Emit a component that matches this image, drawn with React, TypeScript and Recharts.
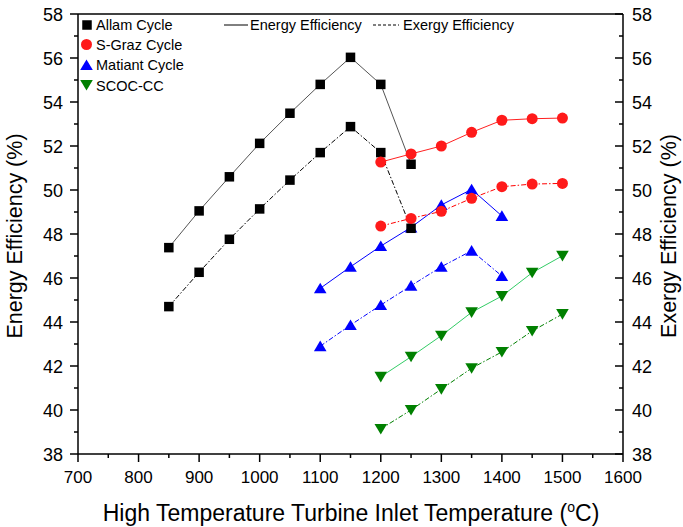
import React from 'react';
import { LineChart, Line, XAxis, YAxis, ReferenceLine } from 'recharts';

const allamTemps = [850, 900, 950, 1000, 1050, 1100, 1150, 1200, 1250];
const allamEnergy = [47.38, 49.05, 50.6, 52.12, 53.49, 54.8, 56.03, 54.8, 51.17];
const allamExergy = [44.7, 46.26, 47.76, 49.14, 50.45, 51.7, 52.88, 51.7, 48.26];

const sgrazTemps = [1200, 1250, 1300, 1350, 1400, 1450, 1500];
const sgrazEnergy = [51.27, 51.64, 52.0, 52.62, 53.17, 53.24, 53.27];
const sgrazExergy = [48.36, 48.71, 49.03, 49.62, 50.15, 50.27, 50.3];

const matiantTemps = [1100, 1150, 1200, 1250, 1300, 1350, 1400];
const matiantEnergy = [45.53, 46.51, 47.45, 48.3, 49.32, 50.03, 48.82];
const matiantExergy = [42.9, 43.86, 44.77, 45.65, 46.51, 47.24, 46.09];

const scocTemps = [1200, 1250, 1300, 1350, 1400, 1450, 1500];
const scocEnergy = [41.51, 42.42, 43.38, 44.44, 45.18, 46.24, 47.01];
const scocExergy = [39.14, 40.0, 40.95, 41.9, 42.64, 43.59, 44.36];

const xTicks = [700, 750, 800, 850, 900, 950, 1000, 1050, 1100, 1150, 1200, 1250, 1300, 1350, 1400, 1450, 1500, 1550, 1600];
const yTicks = [38, 39, 40, 41, 42, 43, 44, 45, 46, 47, 48, 49, 50, 51, 52, 53, 54, 55, 56, 57, 58];

const legendSeries = ['Allam Cycle', 'S-Graz Cycle', 'Matiant Cycle', 'SCOC-CC'];
const legendLines = ['Energy Efficiency', 'Exergy Efficiency'];

const FONT = '"Liberation Sans", Arial, sans-serif';
const EXERGY_DASH = '5 2 1.5 2';

const toData = (xs: number[], ys: number[]) => xs.map((x, i) => ({ x, y: ys[i] }));

const squareDot = (color: string) => (p: any) => (
  <rect key={`s-${p.index}`} x={p.cx - 4.75} y={p.cy - 4.75} width={9.5} height={9.5} fill={color} />
);
const circleDot = (color: string) => (p: any) => (
  <circle key={`c-${p.index}`} cx={p.cx} cy={p.cy} r={5.5} fill={color} />
);
const triUpDot = (color: string) => (p: any) => (
  <polygon key={`u-${p.index}`} points={`${p.cx},${p.cy - 5.6} ${p.cx + 6.3},${p.cy + 5} ${p.cx - 6.3},${p.cy + 5}`} fill={color} />
);
const triDownDot = (color: string) => (p: any) => (
  <polygon key={`d-${p.index}`} points={`${p.cx},${p.cy + 5.6} ${p.cx + 6.3},${p.cy - 5} ${p.cx - 6.3},${p.cy - 5}`} fill={color} />
);

const XTick = (p: any) => {
  const v = p.payload.value;
  const major = v % 100 === 0;
  return (
    <g>
      <line x1={p.x} x2={p.x} y1={p.y} y2={p.y + (major ? 8 : 4)} stroke="#000" strokeWidth={1.5} />
      {major && (
        <text x={p.x} y={p.y + 29} textAnchor="middle" fontSize={17} fontFamily={FONT} fill="#000">
          {v}
        </text>
      )}
    </g>
  );
};

const YLeftTick = (p: any) => {
  const v = p.payload.value;
  const major = v % 2 === 0;
  return (
    <g>
      <line x1={p.x - (major ? 8 : 4)} x2={p.x} y1={p.y} y2={p.y} stroke="#000" strokeWidth={1.5} />
      {major && (
        <text x={p.x - 15} y={p.y + 6.5} textAnchor="end" fontSize={18} fontFamily={FONT} fill="#000">
          {v}
        </text>
      )}
    </g>
  );
};

const YRightTick = (p: any) => {
  const v = p.payload.value;
  const major = v % 2 === 0;
  return (
    <g>
      <line x1={p.x} x2={p.x - (major ? 8 : 4)} y1={p.y} y2={p.y} stroke="#000" strokeWidth={1.5} />
      {major && (
        <text x={p.x + 9} y={p.y + 6.5} textAnchor="start" fontSize={18} fontFamily={FONT} fill="#000">
          {v}
        </text>
      )}
    </g>
  );
};

export default function App() {
  return (
    <div style={{ position: 'absolute', left: 0, top: 0, width: 683, height: 527, background: '#fff' }}>
      <LineChart width={683} height={527} margin={{ top: 14, right: 0, bottom: 0, left: 0 }}>
        <XAxis
          type="number"
          dataKey="x"
          domain={[700, 1600]}
          ticks={xTicks}
          interval={0}
          allowDataOverflow
          tickSize={0}
          tickMargin={0}
          tickLine={false}
          tick={<XTick />}
          height={73}
          axisLine={{ stroke: '#000', strokeWidth: 1.5 }}
        />
        <YAxis
          yAxisId="left"
          type="number"
          domain={[38, 58]}
          ticks={yTicks}
          interval={0}
          allowDataOverflow
          tickSize={0}
          tickMargin={0}
          tickLine={false}
          tick={<YLeftTick />}
          width={78}
          axisLine={{ stroke: '#000', strokeWidth: 1.5 }}
        />
        <YAxis
          yAxisId="right"
          orientation="right"
          type="number"
          domain={[38, 58]}
          ticks={yTicks}
          interval={0}
          allowDataOverflow
          tickSize={0}
          tickMargin={0}
          tickLine={false}
          tick={<YRightTick />}
          width={60}
          axisLine={{ stroke: '#000', strokeWidth: 1.5 }}
        />
        <ReferenceLine yAxisId="left" y={58} stroke="#000" strokeWidth={1.5} />

        <Line yAxisId="left" data={toData(matiantTemps, matiantEnergy)} dataKey="y" stroke="#0000ff" strokeWidth={1} dot={triUpDot('#0000ff')} isAnimationActive={false} />
        <Line yAxisId="left" data={toData(matiantTemps, matiantExergy)} dataKey="y" stroke="#0000ff" strokeWidth={1} strokeDasharray={EXERGY_DASH} dot={triUpDot('#0000ff')} isAnimationActive={false} />
        <Line yAxisId="left" data={toData(scocTemps, scocEnergy)} dataKey="y" stroke="#33cc66" strokeWidth={1} dot={triDownDot('#008000')} isAnimationActive={false} />
        <Line yAxisId="left" data={toData(scocTemps, scocExergy)} dataKey="y" stroke="#008000" strokeWidth={1} strokeDasharray={EXERGY_DASH} dot={triDownDot('#008000')} isAnimationActive={false} />
        <Line yAxisId="left" data={toData(allamTemps, allamEnergy)} dataKey="y" stroke="#555555" strokeWidth={1} dot={squareDot('#000000')} isAnimationActive={false} />
        <Line yAxisId="left" data={toData(allamTemps, allamExergy)} dataKey="y" stroke="#000000" strokeWidth={1} strokeDasharray={EXERGY_DASH} dot={squareDot('#000000')} isAnimationActive={false} />
        <Line yAxisId="left" data={toData(sgrazTemps, sgrazEnergy)} dataKey="y" stroke="#ff2020" strokeWidth={1} dot={circleDot('#ff1a1a')} isAnimationActive={false} />
        <Line yAxisId="left" data={toData(sgrazTemps, sgrazExergy)} dataKey="y" stroke="#ff0000" strokeWidth={1} strokeDasharray={EXERGY_DASH} dot={circleDot('#ff1a1a')} isAnimationActive={false} />
      </LineChart>

      <svg width={683} height={527} style={{ position: 'absolute', left: 0, top: 0, pointerEvents: 'none' }}>
        <g fontFamily={FONT} fill="#000">
          <rect x={82.25} y={20.25} width={9.5} height={9.5} fill="#000" />
          <text x={96} y={30} fontSize={14.5}>{legendSeries[0]}</text>
          <circle cx={86.5} cy={44.5} r={5.5} fill="#ff1a1a" />
          <text x={96} y={50} fontSize={14.5}>{legendSeries[1]}</text>
          <polygon points="86.5,59.4 92.8,70 80.2,70" fill="#0000ff" />
          <text x={96} y={70} fontSize={14.5}>{legendSeries[2]}</text>
          <polygon points="86.5,90.6 92.8,80 80.2,80" fill="#008000" />
          <text x={96} y={90.5} fontSize={14.5}>{legendSeries[3]}</text>

          <line x1={224} x2={248} y1={25} y2={25} stroke="#000" strokeWidth={1} />
          <text x={250} y={30} fontSize={14.5}>{legendLines[0]}</text>
          <line x1={373} x2={399} y1={25} y2={25} stroke="#000" strokeWidth={1} strokeDasharray="3 2" />
          <text x={403} y={30} fontSize={14.5}>{legendLines[1]}</text>

          <text transform="translate(22,236) rotate(-90)" textAnchor="middle" fontSize={21.5}>Energy Efficiency (%)</text>
          <text transform="translate(676,236) rotate(-90)" textAnchor="middle" fontSize={21.5}>Exergy Efficiency (%)</text>
          <text x={351} y={521} textAnchor="middle" fontSize={23}>
            High Temperature Turbine Inlet Temperature (
            <tspan fontSize={14} dy={-9}>o</tspan>
            <tspan dy={9}>C)</tspan>
          </text>
        </g>
      </svg>
    </div>
  );
}
